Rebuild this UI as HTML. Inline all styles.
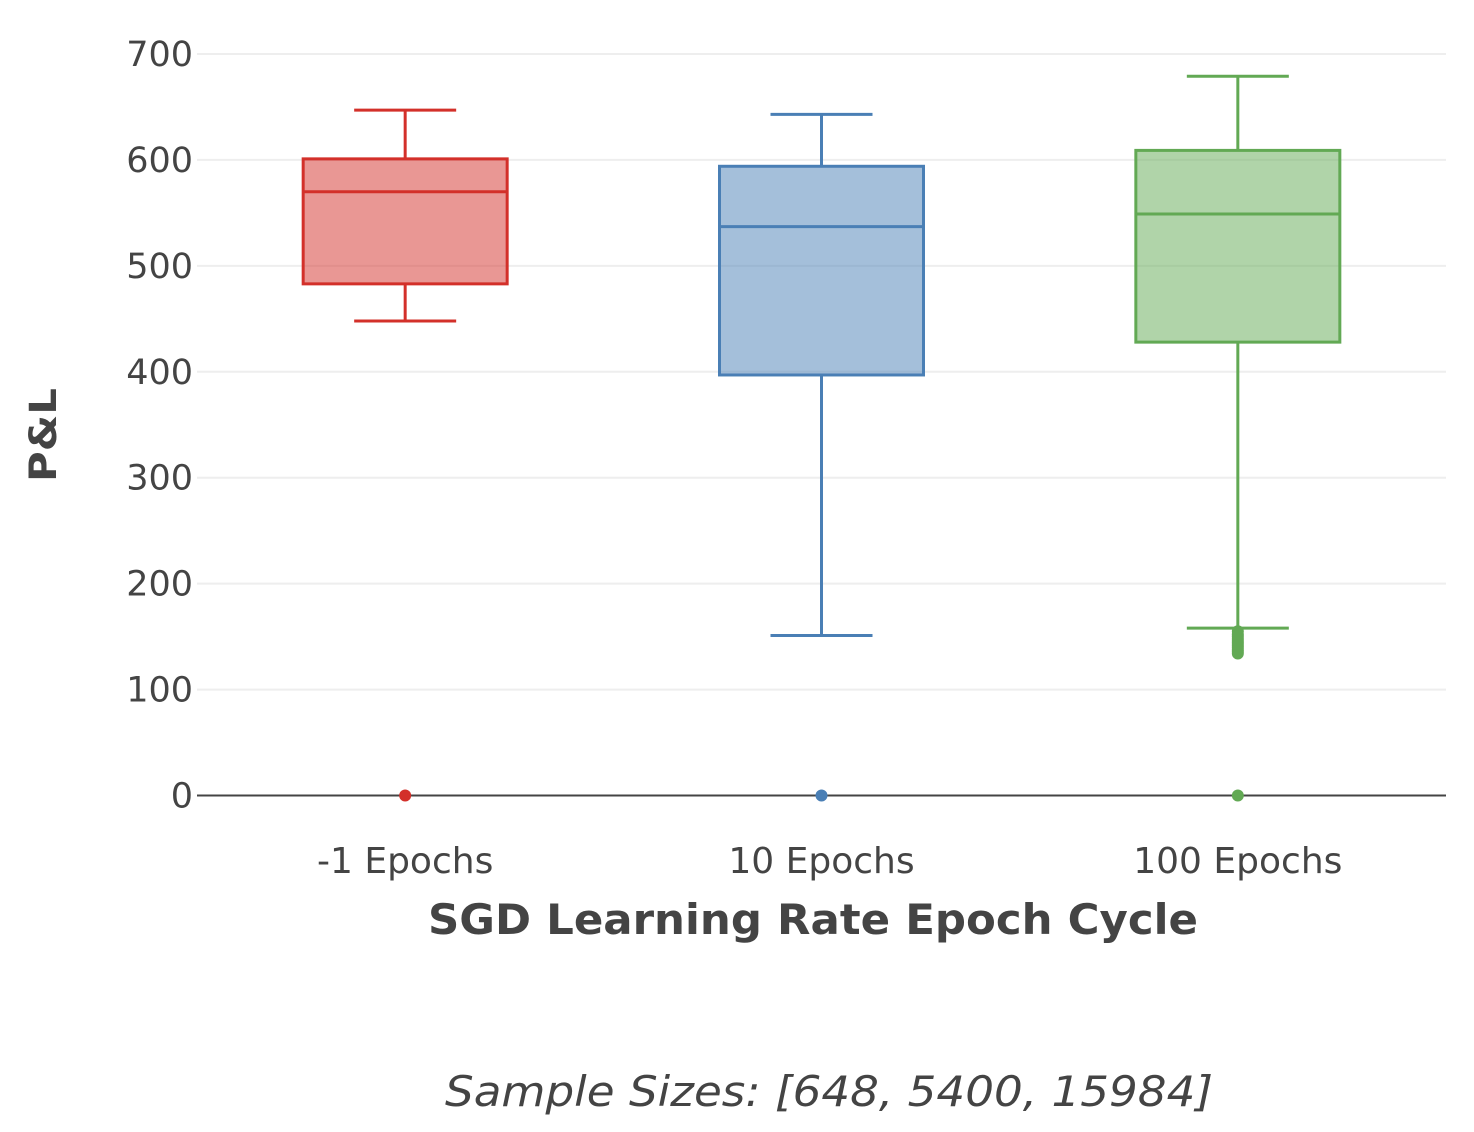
<!DOCTYPE html>
<html><head><meta charset="utf-8"><style>
html,body{margin:0;padding:0;background:#fff;}
svg{display:block;font-family:"DejaVu Sans","Liberation Sans",sans-serif;}
</style></head><body>
<svg id="chart" width="1474" height="1132" xmlns="http://www.w3.org/2000/svg">
<g id="grid"></g>
<g id="yticks"></g>
<g id="boxes"></g>
<g id="xticks"></g>
<text transform="translate(56,435) rotate(-90)" text-anchor="middle" font-size="37" font-weight="bold" fill="#444" textLength="94" lengthAdjust="spacingAndGlyphs">P&amp;L</text>
<text x="813" y="934" text-anchor="middle" font-size="42" font-weight="bold" fill="#444" textLength="770" lengthAdjust="spacingAndGlyphs">SGD Learning Rate Epoch Cycle</text>
<text x="829" y="1106" text-anchor="middle" font-size="42" font-style="italic" fill="#444" textLength="768" lengthAdjust="spacingAndGlyphs">Sample Sizes: [648, 5400, 15984]</text>
</svg>
<script>
const categories = ["-1 Epochs", "10 Epochs", "100 Epochs"];
const upperWhisker = [647, 643, 679];
const q3Values = [601, 594, 609];
const medians = [570, 537, 549];
const q1Values = [483, 397, 428];
const lowerWhisker = [448, 151, 158];
const zeroPoints = [0, 0, 0];
const greenOutliers = [155, 152, 150, 148, 146, 144, 142, 140, 138, 136, 134];
const yTicks = [0, 100, 200, 300, 400, 500, 600, 700];
const strokes = ["#d3302a", "#4a7fb5", "#62a954"];
const fills = ["rgba(211,48,42,0.5)", "rgba(74,127,181,0.5)", "rgba(98,169,84,0.5)"];

const NS = "http://www.w3.org/2000/svg";
const plotL = 197, plotR = 1446;
function yScale(v){ return 795.5 - v * (741.5/700); }
function xScale(i){ return plotL + (plotR - plotL) / categories.length * (i + 0.5); }
function mk(tag, attrs, parent){
  const e = document.createElementNS(NS, tag);
  for (const k in attrs) e.setAttribute(k, attrs[k]);
  parent.appendChild(e); return e;
}
const grid = document.getElementById("grid"), yt = document.getElementById("yticks");
yTicks.forEach(t => {
  const y = yScale(t);
  const l = mk("line", {x1: plotL, x2: plotR, y1: y, y2: y, stroke: t === 0 ? "#444" : "#eee", "stroke-width": 2}, grid);
  
  
  const tx = mk("text", {x: 193, y: y + 12, "text-anchor": "end", "font-size": 35, fill: "#444"}, yt);
  tx.textContent = t;
  
  
});
const boxes = document.getElementById("boxes"), xt = document.getElementById("xticks");
const halfW = 102, capW = 51;
categories.forEach((c, i) => {
  const cx = xScale(i), s = strokes[i];
  const g = mk("g", {}, boxes);
  
  
  mk("line", {x1: cx, x2: cx, y1: yScale(upperWhisker[i]), y2: yScale(q3Values[i]), stroke: s, "stroke-width": 3}, g);
  mk("line", {x1: cx, x2: cx, y1: yScale(q1Values[i]), y2: yScale(lowerWhisker[i]), stroke: s, "stroke-width": 3}, g);
  mk("line", {x1: cx - capW, x2: cx + capW, y1: yScale(upperWhisker[i]), y2: yScale(upperWhisker[i]), stroke: s, "stroke-width": 3}, g);
  mk("line", {x1: cx - capW, x2: cx + capW, y1: yScale(lowerWhisker[i]), y2: yScale(lowerWhisker[i]), stroke: s, "stroke-width": 3}, g);
  mk("rect", {x: cx - halfW, y: yScale(q3Values[i]), width: 2 * halfW, height: yScale(q1Values[i]) - yScale(q3Values[i]), fill: fills[i], stroke: s, "stroke-width": 3}, g);
  mk("line", {x1: cx - halfW, x2: cx + halfW, y1: yScale(medians[i]), y2: yScale(medians[i]), stroke: s, "stroke-width": 3}, g);
  const p = mk("circle", {cx: cx, cy: yScale(zeroPoints[i]), r: 6, fill: s}, g);
  
  
  if (i === 2) {
    greenOutliers.forEach(v => {
      const o = mk("circle", {cx: cx, cy: yScale(v), r: 6, fill: s}, g);
      
      
    });
  }
  const tx = mk("text", {x: cx, y: 873, "text-anchor": "middle", "font-size": 36, fill: "#444"}, xt);
  tx.textContent = c;
  
  
});
</script>
</body></html>
